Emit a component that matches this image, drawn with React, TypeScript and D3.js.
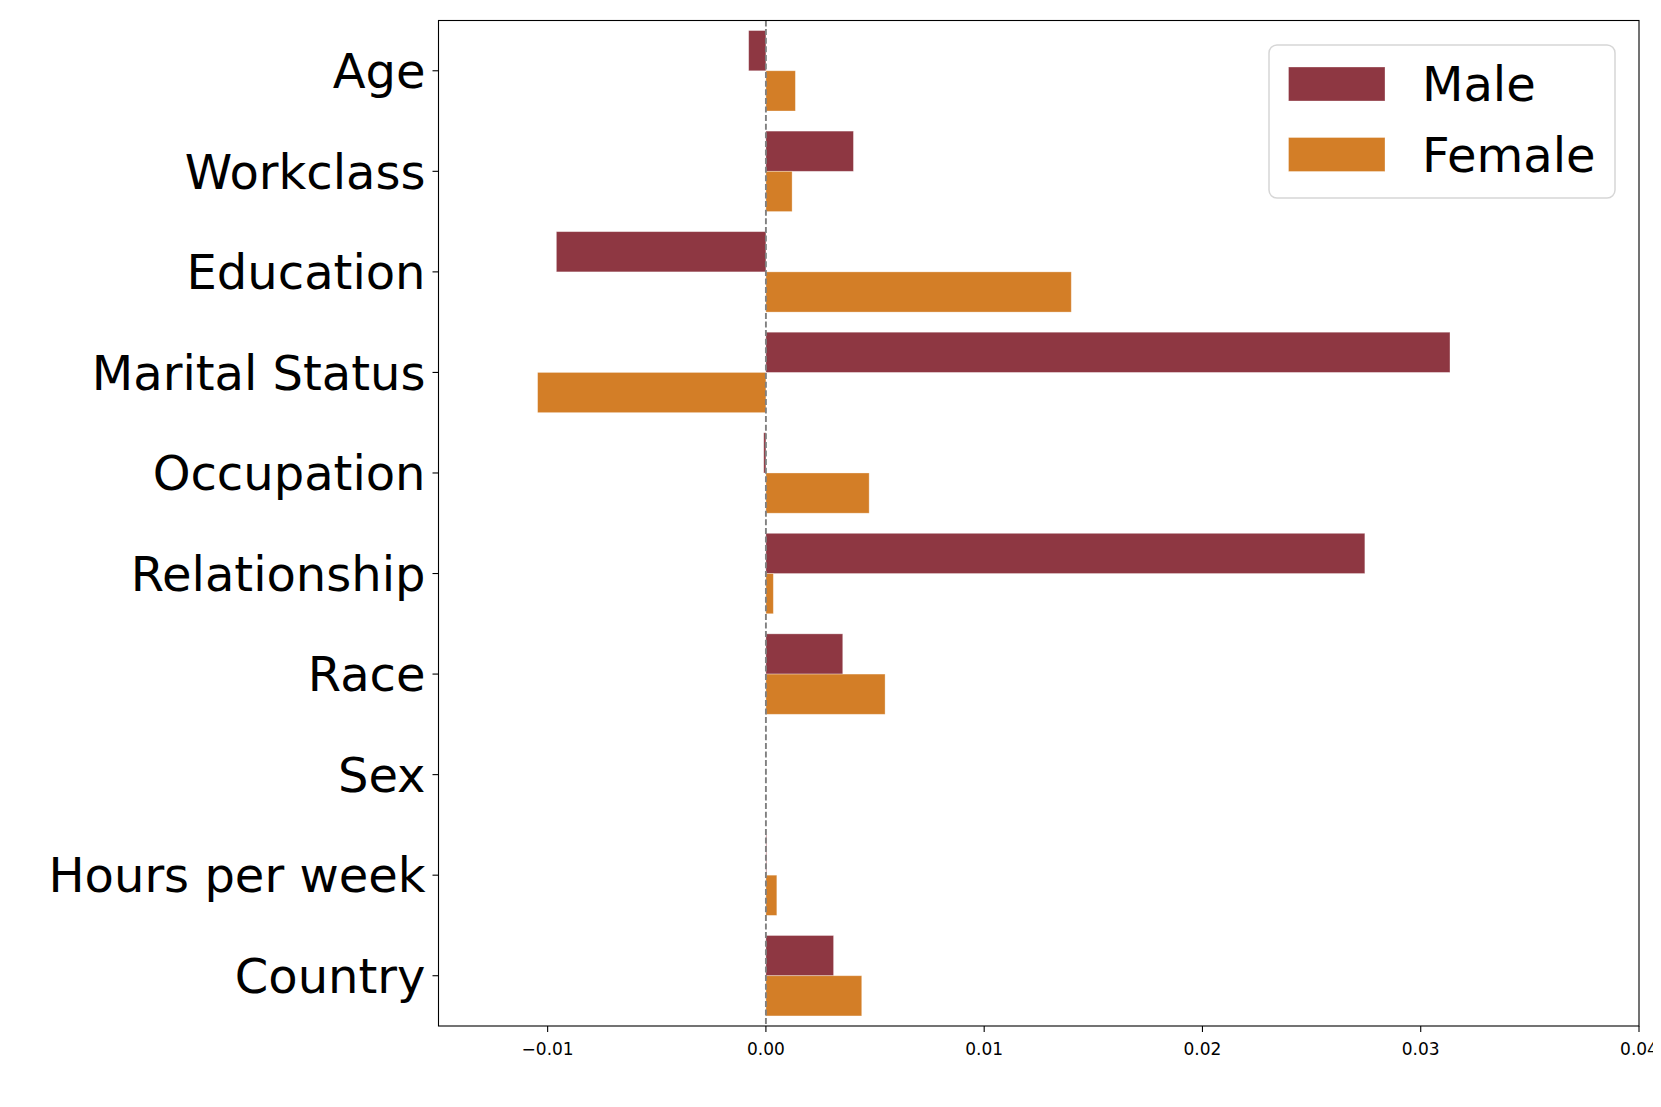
import * as d3 from 'd3';

const categories = [
  'Age',
  'Workclass',
  'Education',
  'Marital Status',
  'Occupation',
  'Relationship',
  'Race',
  'Sex',
  'Hours per week',
  'Country',
];
const maleValues = [-0.00079, 0.00401, -0.0096, 0.03134, -0.0001, 0.02744, 0.00352, 0, 0.00003, 0.0031];
const femaleValues = [0.00135, 0.0012, 0.01399, -0.01046, 0.00473, 0.00034, 0.00546, 0, 0.0005, 0.00439];
const xTicks = [-0.01, 0, 0.01, 0.02, 0.03, 0.04];
const seriesNames = ['Male', 'Female'];
const seriesColors = ['#8e3742', '#d37e27'];

const WIDTH = 1661;
const HEIGHT = 1107;
const margin = { top: 20.5, right: 22, bottom: 81, left: 438.5 };
const FONT = '"DejaVu Sans", sans-serif';

export default function App() {
  const innerW = WIDTH - margin.left - margin.right;
  const innerH = HEIGHT - margin.top - margin.bottom;

  const x = d3.scaleLinear().domain([-0.015, 0.04]).range([0, innerW]);
  const y = d3.scaleBand<string>().domain(categories).range([0, innerH]).padding(0);
  const sub = d3
    .scaleBand<string>()
    .domain(seriesNames)
    .range([y.bandwidth() * 0.1, y.bandwidth() * 0.9])
    .padding(0);

  const series = [maleValues, femaleValues];
  const fmt = (v: number) => (v < 0 ? '\u2212' : '') + Math.abs(v).toFixed(2);

  return (
    <svg width={WIDTH} height={HEIGHT} style={{ display: 'block', margin: '-8px', background: '#fff' }}>
      <g transform={`translate(${margin.left},${margin.top})`}>
        {/* bars */}
        {categories.map((cat, i) => (
          <g key={cat} transform={`translate(0,${y(cat)})`}>
            {series.map((vals, s) => {
              const v = vals[i];
              const x0 = x(Math.min(0, v));
              const w = Math.abs(x(v) - x(0));
              return (
                <rect
                  key={s}
                  x={x0}
                  y={sub(seriesNames[s])}
                  width={w}
                  height={sub.bandwidth()}
                  fill={seriesColors[s]}
                  stroke="#fff"
                  strokeOpacity={0.4}
                  strokeWidth={0.8}
                />
              );
            })}
          </g>
        ))}

        {/* zero reference line */}
        <line
          x1={x(0)}
          x2={x(0)}
          y1={0}
          y2={innerH}
          stroke="#808080"
          strokeWidth={1.9}
          strokeDasharray="6,2.6"
        />

        {/* frame */}
        <rect x={0} y={0} width={innerW} height={innerH} fill="none" stroke="#000" strokeWidth={1.1} />

        {/* x axis */}
        {xTicks.map((t) => (
          <g key={t} transform={`translate(${x(t)},${innerH})`}>
            <line y2={6} stroke="#000" strokeWidth={1.1} />
            <text
              y={24}
              textAnchor="middle"
              fontFamily={FONT}
              fontSize={17}
              fill="#000"
              dominantBaseline="middle"
            >
              {fmt(t)}
            </text>
          </g>
        ))}

        {/* y axis */}
        {categories.map((cat) => {
          const cy = (y(cat) ?? 0) + y.bandwidth() / 2;
          return (
            <g key={cat} transform={`translate(0,${cy})`}>
              <line x2={-6} stroke="#000" strokeWidth={1.1} />
              <text x={-13} dy="0.36em" textAnchor="end" fontFamily={FONT} fontSize={48} fill="#000">
                {cat}
              </text>
            </g>
          );
        })}
      </g>

      {/* legend */}
      <g transform="translate(1269,45)">
        <rect x={0} y={0} width={346} height={153} rx={8} fill="#fff" fillOpacity={0.8} stroke="#d6d6d6" strokeWidth={1.5} />
        {seriesNames.map((name, s) => (
          <g key={name} transform={`translate(0,${22 + s * 70.5})`}>
            <rect x={19.5} y={0} width={96.5} height={34} fill={seriesColors[s]} stroke="#fff" strokeOpacity={0.4} strokeWidth={0.8} />
            <text x={153} y={17} dy="0.36em" fontFamily={FONT} fontSize={48} fill="#000">
              {name}
            </text>
          </g>
        ))}
      </g>
    </svg>
  );
}
